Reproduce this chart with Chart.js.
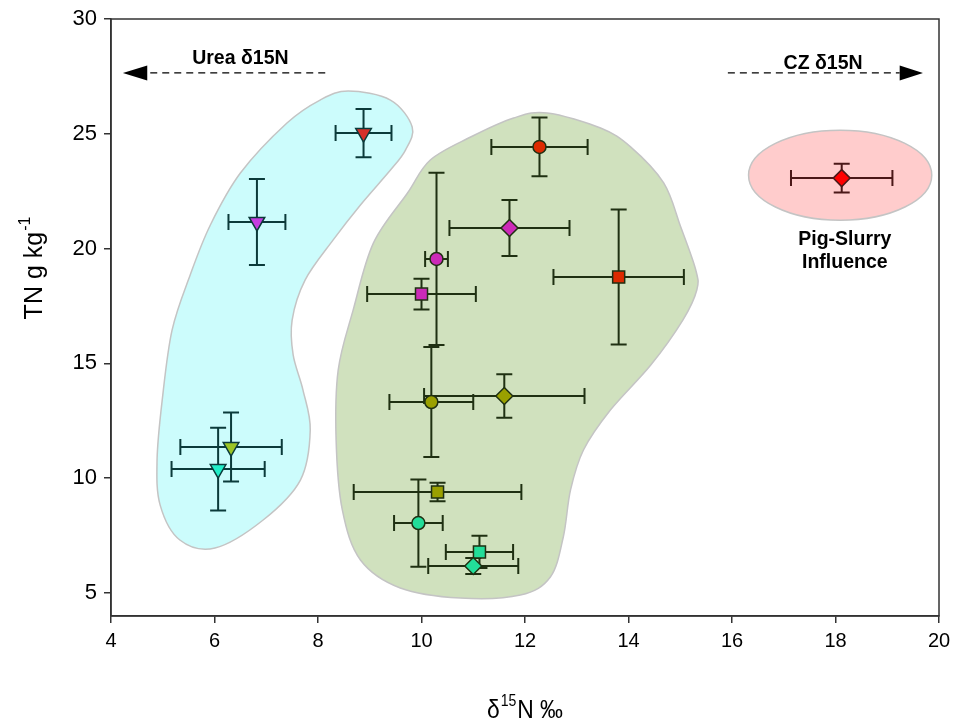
<!DOCTYPE html>
<html>
<head>
<meta charset="utf-8">
<script src="https://cdn.jsdelivr.net/npm/chart.js@4.4.1/dist/chart.umd.min.js"></script>
<style>
  body { margin: 0; background: #fff; }
  #wrap { width: 953px; height: 722px; }
</style>
</head>
<body>
<div id="wrap"><canvas id="myChart" width="953" height="722"></canvas></div>
<script>
// samples: 4 urea plots, 11 CZ plots, 1 pig-slurry plot
const groups = ['urea', 'urea', 'urea', 'urea',
  'cz', 'cz', 'cz', 'cz', 'cz', 'cz', 'cz', 'cz', 'cz', 'cz', 'cz', 'pig'];
const d15N  = [8.88, 6.82, 6.32, 6.07, 12.28, 11.70, 10.29, 10.19, 11.60, 10.00, 13.81, 10.31, 9.94, 11.12, 11.00, 18.12];
const tnVal = [25.03, 21.16, 11.36, 10.40, 24.43, 20.90, 19.55, 13.32, 13.58, 18.02, 18.76, 9.40, 8.05, 6.79, 6.18, 23.07];
const d15NErr = [0.54, 0.55, 0.98, 0.90, 0.93, 1.16, 0.22, 0.81, 1.55, 1.05, 1.26, 1.62, 0.47, 0.65, 0.87, 0.98];
const tnErr   = [1.05, 1.87, 1.50, 1.80, 1.28, 1.22, 3.75, 2.40, 0.95, 0.67, 2.94, 0.40, 1.90, 0.70, 0.35, 0.63];

const xTicks = [4, 6, 8, 10, 12, 14, 16, 18, 20];
const yTicks = [5, 10, 15, 20, 25, 30];

// marker look per sample
const shapes = ['triangle', 'triangle', 'triangle', 'triangle',
  'circle', 'rectRot', 'circle', 'circle', 'rectRot', 'rect', 'rect', 'rect', 'circle', 'rect', 'rectRot', 'rectRot'];
const fills = ['#d6302a', '#c63ce0', '#9cc424', '#22eec8',
  '#dd2a00', '#cc2ab8', '#cc2ab8', '#9aa000', '#9aa000', '#cc2ab8', '#dd2a00', '#9aa000', '#22dd99', '#22dd99', '#22dd99', '#ff0000'];
const barColor = { urea: '#0b3a3a', cz: '#1f3012', pig: '#4b1818' };

// outlines of the shaded zones (data units)
const ureaZone = [[8.585, 26.86], [9.40, 26.47], [9.82, 25.30], [9.69, 24.29], [9.40, 23.42], [8.82, 21.90],
  [8.29, 20.37], [7.75, 18.63], [7.50, 16.89], [7.52, 15.37], [7.71, 13.84], [7.85, 12.10], [7.66, 9.92],
  [6.94, 8.18], [6.01, 6.96], [5.33, 7.31], [4.95, 8.83], [4.89, 10.79], [4.99, 13.41], [5.18, 16.45],
  [5.53, 18.85], [5.92, 21.03], [6.50, 23.29], [7.40, 25.47], [8.04, 26.47]];
const czZone = [[12.43, 25.91], [13.46, 25.25], [14.04, 24.43], [14.68, 22.86], [15.01, 20.94], [15.30, 19.07],
  [15.32, 18.20], [15.05, 16.89], [14.43, 14.93], [13.65, 12.97], [13.13, 11.23], [12.88, 9.49], [12.74, 7.44],
  [12.49, 5.70], [11.91, 4.91], [10.75, 4.78], [9.59, 5.22], [8.82, 6.44], [8.47, 8.62], [8.35, 11.66],
  [8.39, 14.71], [8.68, 17.33], [9.07, 20.24], [9.73, 22.42], [10.17, 23.86], [10.95, 24.86], [11.78, 25.69]];
const pigZone = { x: 18.09, y: 23.2, rx: 1.77, ry: 1.96 };

const FONT = "'Liberation Sans', Arial, sans-serif";

function closedSpline(ctx, pts) {
  const n = pts.length;
  ctx.beginPath();
  ctx.moveTo(pts[0][0], pts[0][1]);
  for (let i = 0; i < n; i++) {
    const p0 = pts[(i - 1 + n) % n], p1 = pts[i], p2 = pts[(i + 1) % n], p3 = pts[(i + 2) % n];
    ctx.bezierCurveTo(
      p1[0] + (p2[0] - p0[0]) / 6, p1[1] + (p2[1] - p0[1]) / 6,
      p2[0] - (p3[0] - p1[0]) / 6, p2[1] - (p3[1] - p1[1]) / 6,
      p2[0], p2[1]);
  }
  ctx.closePath();
}

const zonesAndBars = {
  id: 'zonesAndBars',
  beforeDatasetsDraw(chart) {
    const ctx = chart.ctx, xs = chart.scales.x, ys = chart.scales.y;
    const toPx = p => [xs.getPixelForValue(p[0]), ys.getPixelForValue(p[1])];
    ctx.save();
    ctx.lineWidth = 1.5;
    ctx.strokeStyle = '#c4c4c4';

    closedSpline(ctx, ureaZone.map(toPx));
    ctx.fillStyle = '#ccfcfc';
    ctx.fill(); ctx.stroke();

    closedSpline(ctx, czZone.map(toPx));
    ctx.fillStyle = '#d0e1be';
    ctx.fill(); ctx.stroke();

    const cx = xs.getPixelForValue(pigZone.x), cy = ys.getPixelForValue(pigZone.y);
    const rx = xs.getPixelForValue(pigZone.x + pigZone.rx) - cx;
    const ry = cy - ys.getPixelForValue(pigZone.y + pigZone.ry);
    ctx.beginPath();
    ctx.ellipse(cx, cy, rx, ry, 0, 0, Math.PI * 2);
    ctx.fillStyle = '#ffcccc';
    ctx.fill(); ctx.stroke();

    // error bars
    ctx.lineWidth = 2;
    const cap = 8;
    for (let i = 0; i < d15N.length; i++) {
      const x = xs.getPixelForValue(d15N[i]), y = ys.getPixelForValue(tnVal[i]);
      const x0 = xs.getPixelForValue(d15N[i] - d15NErr[i]), x1 = xs.getPixelForValue(d15N[i] + d15NErr[i]);
      const y0 = ys.getPixelForValue(tnVal[i] - tnErr[i]), y1 = ys.getPixelForValue(tnVal[i] + tnErr[i]);
      ctx.strokeStyle = barColor[groups[i]];
      ctx.beginPath();
      ctx.moveTo(x0, y); ctx.lineTo(x1, y);
      ctx.moveTo(x0, y - cap); ctx.lineTo(x0, y + cap);
      ctx.moveTo(x1, y - cap); ctx.lineTo(x1, y + cap);
      ctx.moveTo(x, y0); ctx.lineTo(x, y1);
      ctx.moveTo(x - cap, y0); ctx.lineTo(x + cap, y0);
      ctx.moveTo(x - cap, y1); ctx.lineTo(x + cap, y1);
      ctx.stroke();
    }
    ctx.restore();
  },
  afterDraw(chart) {
    const ctx = chart.ctx, xs = chart.scales.x, ys = chart.scales.y, a = chart.chartArea;
    ctx.save();
    // frame
    ctx.strokeStyle = '#333';
    ctx.lineWidth = 1.5;
    ctx.strokeRect(a.left, a.top, a.right - a.left, a.bottom - a.top);

    // arrows
    const arrow = (from, to, tip, yv) => {
      const y = ys.getPixelForValue(yv);
      const px0 = xs.getPixelForValue(from), px1 = xs.getPixelForValue(to), pt = xs.getPixelForValue(tip);
      ctx.strokeStyle = '#000';
      ctx.lineWidth = 1.2;
      ctx.setLineDash([7, 5]);
      ctx.beginPath(); ctx.moveTo(px0, y); ctx.lineTo(px1, y); ctx.stroke();
      ctx.setLineDash([]);
      ctx.fillStyle = '#000';
      ctx.beginPath();
      ctx.moveTo(pt, y); ctx.lineTo(px1, y - 7.5); ctx.lineTo(px1, y + 7.5);
      ctx.closePath(); ctx.fill();
    };
    arrow(8.14, 4.70, 4.23, 27.65);
    arrow(15.92, 19.24, 19.69, 27.65);

    ctx.fillStyle = '#000';
    ctx.font = 'bold 19.5px ' + FONT;
    ctx.textAlign = 'center';
    ctx.textBaseline = 'middle';
    ctx.fillText('Urea \u03b415N', xs.getPixelForValue(6.50), ys.getPixelForValue(28.26));
    ctx.fillText('CZ \u03b415N', xs.getPixelForValue(17.76), ys.getPixelForValue(28.05));
    ctx.fillText('Pig-Slurry', xs.getPixelForValue(18.18), ys.getPixelForValue(20.37));
    ctx.fillText('Influence', xs.getPixelForValue(18.18), ys.getPixelForValue(19.37));

    // axis titles
    ctx.textAlign = 'left';
    ctx.textBaseline = 'alphabetic';
    ctx.save();
    ctx.translate((a.left + a.right) / 2, 718);
    ctx.scale(0.88, 1);
    ctx.font = '26px ' + FONT;
    const xt1 = '\u03b4', xt2 = '15', xt3 = 'N \u2030';
    const w1 = ctx.measureText(xt1).width, w3 = ctx.measureText(xt3).width;
    ctx.font = '16px ' + FONT;
    const w2 = ctx.measureText(xt2).width;
    const tx = -(w1 + w2 + w3 + 2) / 2;
    ctx.font = '26px ' + FONT;
    ctx.fillText(xt1, tx, 0);
    ctx.font = '16px ' + FONT;
    ctx.fillText(xt2, tx + w1 + 1, -12);
    ctx.font = '26px ' + FONT;
    ctx.fillText(xt3, tx + w1 + w2 + 2, 0);
    ctx.restore();

    ctx.translate(42, 268);
    ctx.rotate(-Math.PI / 2);
    ctx.font = '25px ' + FONT;
    const yt1 = 'TN g kg', yt2 = '-1';
    const v1 = ctx.measureText(yt1).width;
    ctx.font = '16px ' + FONT;
    const v2 = ctx.measureText(yt2).width;
    const sx = -(v1 + v2 + 1) / 2;
    ctx.font = '25px ' + FONT;
    ctx.fillText(yt1, sx, 0);
    ctx.font = '16px ' + FONT;
    ctx.fillText(yt2, sx + v1 + 1, -12);
    ctx.restore();
  }
};

const ctx = document.getElementById('myChart').getContext('2d');
new Chart(ctx, {
  type: 'scatter',
  data: {
    datasets: [{
      label: 'TN vs d15N',
      data: d15N.map((v, i) => ({ x: v, y: tnVal[i] })),
      pointStyle: shapes,
      pointBackgroundColor: fills,
      pointBorderColor: groups.map(g => barColor[g]),
      pointBorderWidth: 1.5,
      pointRadius: shapes.map(s => s === 'circle' ? 6.5 : s === 'rect' ? 8.5 : s === 'rectRot' ? 8.5 : 9),
      pointHoverRadius: shapes.map(s => s === 'circle' ? 6.5 : s === 'rect' ? 8.5 : s === 'rectRot' ? 8.5 : 9),
      pointRotation: shapes.map(s => s === 'triangle' ? 180 : 0)
    }]
  },
  options: {
    responsive: false,
    animation: false,
    devicePixelRatio: 1,
    layout: { padding: { top: 19, right: 14, left: 0, bottom: 0 } },
    plugins: { legend: { display: false }, tooltip: { enabled: false } },
    scales: {
      x: {
        type: 'linear', min: 4, max: 20,
        afterBuildTicks: s => { s.ticks = xTicks.map(v => ({ value: v })); },
        afterFit: s => { s.height = 106; s.paddingLeft = 0; s.paddingRight = 0; },
        ticks: { color: '#000', padding: 6, font: { family: FONT, size: 20 } },
        grid: { drawOnChartArea: false, drawTicks: true, tickLength: 7, color: '#333', lineWidth: 1.5 },
        border: { color: '#333', width: 1.5 }
      },
      y: {
        type: 'linear', min: 4, max: 30,
        afterBuildTicks: s => { s.ticks = yTicks.map(v => ({ value: v })); },
        afterFit: s => { s.width = 111; s.paddingTop = 0; s.paddingBottom = 0; },
        ticks: { color: '#000', padding: 7, font: { family: FONT, size: 22 } },
        grid: { drawOnChartArea: false, drawTicks: true, tickLength: 7, color: '#333', lineWidth: 1.5 },
        border: { color: '#333', width: 1.5 }
      }
    }
  },
  plugins: [zonesAndBars]
});
</script>
</body>
</html>
